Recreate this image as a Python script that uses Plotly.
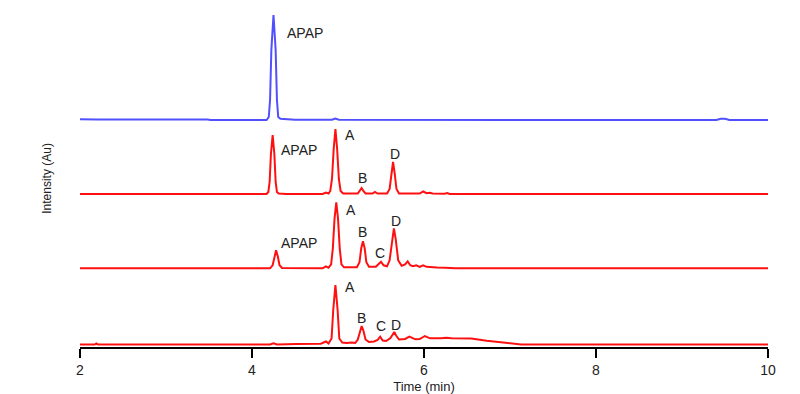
import plotly.graph_objects as go

# ---- data (time in min, intensity above each trace's baseline, px-like AU) ----
blue_t = [2.00, 2.20, 3.48, 3.52, 4.17, 4.195, 4.21, 4.225, 4.25, 4.275, 4.29, 4.305, 4.33, 4.40, 4.50,
          4.93, 4.97, 5.01, 9.40, 9.45, 9.50, 9.55, 10.0]
blue_y = [0.8, 0.5, 0.5, 0.0, 0.0, 3, 20, 70, 105, 70, 20, 3, 1.2, 0.8, 0.3,
          0.2, 1.5, 0.2, 0.0, 1.2, 1.2, 0.0, 0.0]

s2_t = [2.0, 4.17, 4.19, 4.205, 4.22, 4.24, 4.26, 4.275, 4.29, 4.31, 4.40, 4.82, 4.86, 4.89, 4.91, 4.93,
        4.95, 4.97, 4.99, 5.01, 5.03, 5.06, 5.23, 5.255, 5.275, 5.295, 5.32, 5.40, 5.43, 5.46, 5.57, 5.60,
        5.62, 5.64, 5.66, 5.68, 5.71, 5.77, 5.80, 5.83, 5.95, 5.99, 6.03, 6.07, 6.10, 6.24, 6.27, 6.30, 10.0]
s2_y = [0, 0, 2, 12, 40, 59, 40, 12, 2, 0.5, 0, 0, 1.5, 0.5, 3, 15,
        45, 65, 45, 15, 3, 0.5, 0.5, 3, 6, 3, 0.5, 0.5, 2, 0.5, 0.5, 5,
        20, 32, 20, 5, 0.5, 0.5, 1.2, 0.5, 0.5, 2.5, 0.8, 1.2, 0.5, 0.3, 1, 0, 0]

s3_t = [2.0, 4.21, 4.24, 4.26, 4.28, 4.30, 4.32, 4.35, 4.82, 4.86, 4.89, 4.92, 4.94, 4.96, 4.98, 5.00,
        5.02, 5.04, 5.07, 5.22, 5.25, 5.27, 5.29, 5.31, 5.33, 5.36, 5.44, 5.47, 5.50, 5.53, 5.57, 5.60,
        5.63, 5.65, 5.67, 5.70, 5.74, 5.78, 5.81, 5.84, 5.87, 5.91, 5.95, 5.99, 6.03, 6.06, 6.10, 6.15,
        6.25, 6.36, 10.0]
s3_y = [0, 0, 3, 12, 18, 12, 3, 0.3, 0, 2, 0.5, 4, 20, 50, 66, 50,
        20, 4, 1, 1, 6, 20, 27, 20, 6, 1.5, 1.5, 4, 6.6, 3, 2, 8,
        30, 40, 30, 8, 2.5, 4, 7, 3, 2, 3, 1.5, 3, 1.5, 1.2, 1, 0.8,
        0.6, 0, 0]

s4_t = [2.0, 2.17, 2.19, 2.21, 4.21, 4.25, 4.29, 4.50, 4.52, 4.80, 4.86, 4.89, 4.925, 4.945, 4.97, 4.995,
        5.015, 5.05, 5.10, 5.16, 5.20, 5.23, 5.255, 5.275, 5.295, 5.32, 5.36, 5.42, 5.46, 5.49, 5.52, 5.56,
        5.61, 5.635, 5.655, 5.675, 5.71, 5.78, 5.83, 5.90, 5.95, 6.01, 6.07, 6.20, 6.26, 6.32, 6.55, 6.73,
        6.92, 7.13, 10.0]
s4_y = [0, 0, 1, 0, 0, 1.2, 0, 0, 0.6, 0.8, 3, 1, 6, 35, 59.5, 35,
        6, 2, 1.5, 2, 1.5, 5, 14, 18.5, 14, 5, 2.5, 3, 4.5, 7.8, 4, 3.5,
        6.5, 10.5, 12.5, 9, 5, 5.5, 7.8, 5.2, 5.5, 8.5, 6.2, 6.3, 6.8, 6.2, 6.0, 3.8,
        1.8, 0, 0]

x_ticks = [2, 4, 6, 8, 10]

# peak labels: (trace index, time, text, anchor, height above baseline)
labels = [
    (0, 4.384, "APAP", "left", 87),
    (1, 4.317, "APAP", "left", 44.5),
    (1, 5.062, "A", "left", 59.3),
    (1, 5.287, "B", "center", 15.7),
    (1, 5.663, "D", "center", 40.3),
    (2, 4.317, "APAP", "left", 25.3),
    (2, 5.070, "A", "left", 58.3),
    (2, 5.288, "B", "center", 36.3),
    (2, 5.488, "C", "center", 15.6),
    (2, 5.669, "D", "center", 47.3),
    (3, 5.053, "A", "left", 57.8),
    (3, 5.277, "B", "center", 26.5),
    (3, 5.497, "C", "center", 18.3),
    (3, 5.669, "D", "center", 19.8),
]

# ---- layout / style ----
offsets = [227, 153, 78.7, 2.5]
colors = ["#5050ff", "#ff1010", "#ff1010", "#ff1010"]
series = [(blue_t, blue_y), (s2_t, s2_y), (s3_t, s3_y), (s4_t, s4_y)]

fig = go.Figure()
for (t, y), off, c in zip(series, offsets, colors):
    fig.add_trace(go.Scatter(x=t, y=[v + off for v in y], mode="lines",
                             line=dict(color=c, width=2), showlegend=False, hoverinfo="skip"))

for idx, t, txt, anc, dy in labels:
    fig.add_annotation(x=t, y=offsets[idx] + dy, text=txt, showarrow=False,
                       xanchor=anc, yanchor="middle",
                       font=dict(family="Liberation Sans, Arial", size=14, color="#222222"))

fig.add_annotation(xref="paper", yref="paper", x=-0.049, y=0.5, text="Intensity (Au)",
                   textangle=-90, showarrow=False, xanchor="center", yanchor="middle",
                   font=dict(family="Liberation Sans, Arial", size=12, color="#222222"))

fig.update_layout(
    width=792, height=386,
    margin=dict(l=72, r=32, t=2, b=47),
    paper_bgcolor="white", plot_bgcolor="white",
    xaxis=dict(range=[2, 10], tickvals=x_ticks, ticks="outside", ticklen=9, tickwidth=1.5,
               tickcolor="black", showline=True, linecolor="black", linewidth=1.5,
               showgrid=False, zeroline=False,
               tickfont=dict(family="Liberation Sans, Arial", size=14, color="#222222"),
               title=dict(text="Time (min)", standoff=5,
                          font=dict(family="Liberation Sans, Arial", size=13, color="#222222"))),
    yaxis=dict(range=[0, 337], visible=False, showgrid=False, zeroline=False),
)

fig.write_html("out.html")
